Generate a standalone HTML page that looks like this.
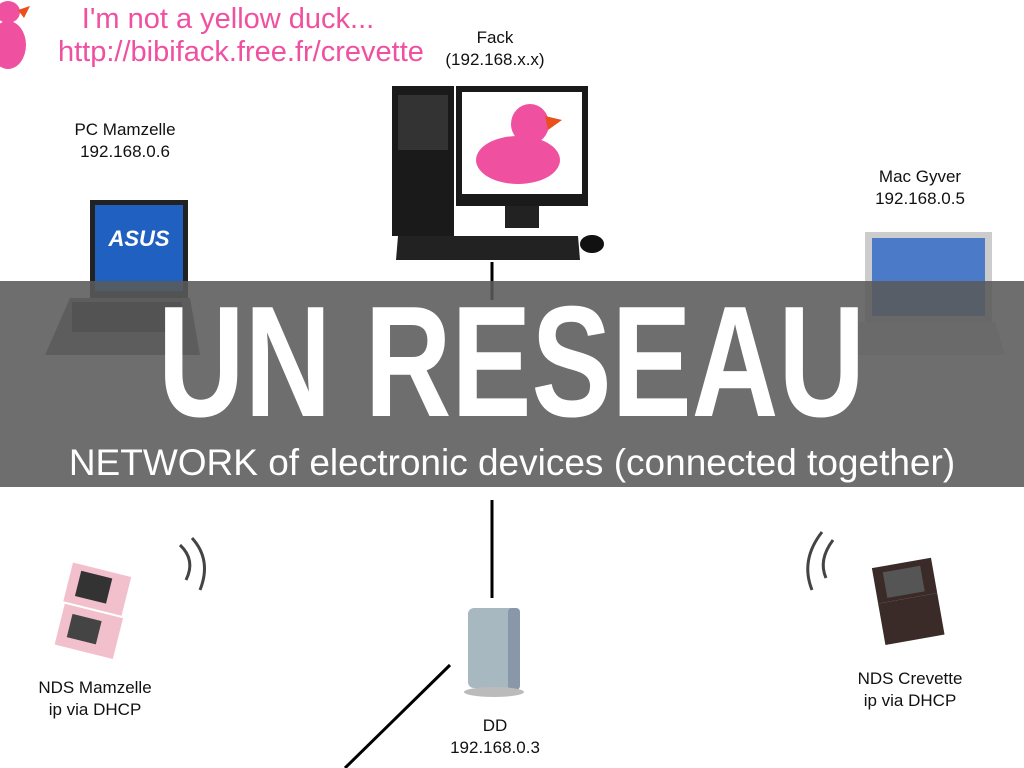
<!DOCTYPE html>
<html><head><meta charset="utf-8"><style>
html,body{margin:0;padding:0}
body{width:1024px;height:768px;position:relative;overflow:hidden;background:#fff;font-family:"Liberation Sans",sans-serif}
.a{position:absolute}
.lbl{position:absolute;font-family:"Liberation Sans",sans-serif;font-size:17px;color:#111;text-align:center;line-height:22px}
</style></head><body>
<svg class="a" style="left:0;top:0" width="1024" height="768">
 <ellipse cx="8" cy="45" rx="18" ry="24" fill="#f050a0"/>
 <ellipse cx="8" cy="12" rx="12" ry="11" fill="#f050a0"/>
 <polygon points="18,10 30,6 24,18" fill="#e8501e"/>
 <line x1="492" y1="262" x2="492" y2="300" stroke="#000" stroke-width="3"/>
 <line x1="492" y1="500" x2="492" y2="598" stroke="#000" stroke-width="3"/>
 <line x1="450" y1="665" x2="345" y2="768" stroke="#000" stroke-width="3"/>
 <rect x="392" y="86" width="62" height="150" fill="#1a1a1a"/>
 <rect x="398" y="95" width="50" height="55" fill="#333"/>
 <rect x="456" y="86" width="132" height="120" fill="#1a1a1a"/>
 <rect x="462" y="92" width="120" height="102" fill="#fff"/>
 <ellipse cx="518" cy="160" rx="42" ry="24" fill="#f050a0"/>
 <ellipse cx="530" cy="124" rx="19" ry="20" fill="#f050a0"/>
 <polygon points="545,116 562,120 548,130" fill="#e8501e"/>
 <rect x="505" y="206" width="34" height="22" fill="#222"/>
 <polygon points="398,236 578,236 580,260 396,260" fill="#222"/>
 <ellipse cx="592" cy="244" rx="12" ry="9" fill="#111"/>
 <rect x="90" y="200" width="98" height="98" fill="#222"/>
 <rect x="95" y="205" width="88" height="86" fill="#2060c0"/>
 <text x="139" y="246" fill="#fff" font-size="22" font-weight="bold" font-style="italic" text-anchor="middle">ASUS</text>
 <polygon points="70,298 190,298 200,355 45,355" fill="#777"/>
 <rect x="72" y="302" width="110" height="30" fill="#222"/>
 <rect x="865" y="232" width="127" height="90" fill="#ccc"/>
 <rect x="872" y="238" width="113" height="78" fill="#4a7ac8"/>
 <polygon points="858,322 995,322 1005,355 848,355" fill="#ddd"/>
 <g transform="rotate(14 90 610)">
 <rect x="62" y="568" width="60" height="40" fill="#f2c0cc"/><rect x="72" y="574" width="32" height="26" fill="#333"/>
 <rect x="64" y="610" width="60" height="42" fill="#f2c0cc"/><rect x="74" y="618" width="30" height="24" fill="#444"/></g>
 <path d="M180,545 Q196,560 186,580" stroke="#444" stroke-width="3" fill="none"/>
 <path d="M192,538 Q212,560 200,590" stroke="#444" stroke-width="3" fill="none"/>
 <g transform="rotate(-10 910 600)">
 <rect x="878" y="562" width="60" height="36" fill="#3a2a28"/><rect x="888" y="568" width="38" height="26" fill="#555"/>
 <rect x="878" y="598" width="60" height="42" fill="#3a2a28"/></g>
 <path d="M833,540 Q818,560 826,578" stroke="#444" stroke-width="3" fill="none"/>
 <path d="M822,532 Q800,560 812,590" stroke="#444" stroke-width="3" fill="none"/>
 <rect x="468" y="608" width="48" height="80" rx="6" fill="#a8b8c0"/>
 <rect x="508" y="608" width="12" height="82" rx="4" fill="#8898a8"/>
 <ellipse cx="494" cy="692" rx="30" ry="5" fill="#bbb"/>
</svg>
<div class="a" style="left:58px;top:3px;font-size:29px;color:#f050a0;line-height:33px;text-align:center;width:340px">I'm not a yellow duck...<br>http://bibifack.free.fr/crevette</div>
<div class="lbl" style="left:400px;top:27px;width:190px">Fack<br>(192.168.x.x)</div>
<div class="lbl" style="left:50px;top:119px;width:150px">PC Mamzelle<br>192.168.0.6</div>
<div class="lbl" style="left:845px;top:166px;width:150px">Mac Gyver<br>192.168.0.5</div>
<div class="lbl" style="left:15px;top:677px;width:160px">NDS Mamzelle<br>ip via DHCP</div>
<div class="lbl" style="left:830px;top:668px;width:160px">NDS Crevette<br>ip via DHCP</div>
<div class="lbl" style="left:415px;top:715px;width:160px">DD<br>192.168.0.3</div>
<div class="a" style="left:0;top:281px;width:1024px;height:206px;background:rgba(90,90,90,0.88)"></div>
<div class="a" style="left:0;top:279px;width:1024px;text-align:center;color:#fff;font-weight:bold;font-size:158px;line-height:166px;transform:scaleX(0.76);transform-origin:510px 0">UN RESEAU</div>
<div class="a" style="left:0;top:441px;width:1024px;text-align:center;color:#fff;font-size:37px;line-height:44px">NETWORK of electronic devices (connected together)</div>
</body></html>
